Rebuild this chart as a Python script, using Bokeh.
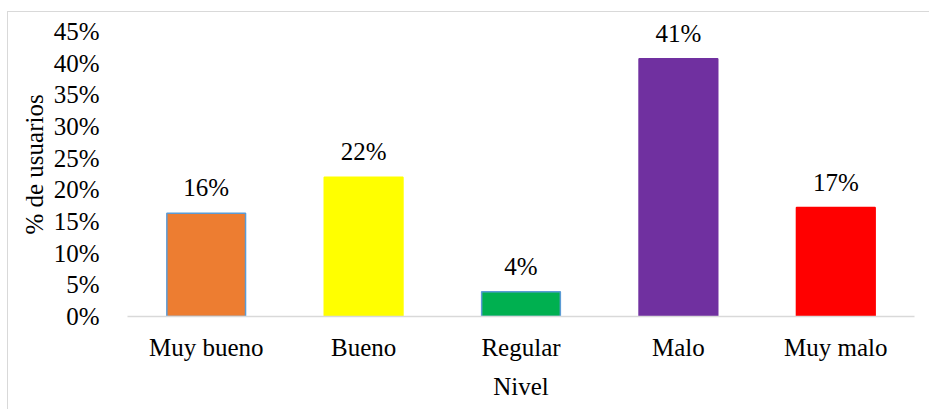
from bokeh.plotting import figure
from bokeh.models import ColumnDataSource, NumeralTickFormatter, FixedTicker, LabelSet, Range1d
from bokeh.embed import file_html
from bokeh.resources import INLINE

categories = ["Muy bueno", "Bueno", "Regular", "Malo", "Muy malo"]
values = [16.3, 22.0, 3.9, 40.7, 17.2]
labels = ["16%", "22%", "4%", "41%", "17%"]
colors = ["#ED7D31", "#FFFF00", "#00B050", "#7030A0", "#FF0000"]
outlines = ["#5B9BD5", None, "#5B9BD5", None, None]
y_ticks = [0, 5, 10, 15, 20, 25, 30, 35, 40, 45]

FONT = "Liberation Serif"
FS = "25px"

src = ColumnDataSource(dict(
    x=categories,
    top=[v / 100 for v in values],
    lab=labels,
    color=colors,
    line=[c if c else col for c, col in zip(outlines, colors)],
))

p = figure(x_range=categories, y_range=Range1d(0, 0.48),
           width=922, height=398, output_backend="svg", toolbar_location=None,
           min_border_left=119, min_border_right=16, min_border_top=0, min_border_bottom=94)
p.styles = {"margin-left": "7px", "margin-top": "11px",
            "border-left": "1px solid #D9D9D9", "border-top": "1px solid #D9D9D9"}

p.vbar(x="x", top="top", width=0.5, source=src, fill_color="color",
       line_color="line", line_width=1.5)

p.add_layout(LabelSet(x="x", y="top", text="lab", source=src, text_align="center",
                      text_baseline="bottom", y_offset=12, text_font=FONT,
                      text_font_size=FS, text_color="#000000"))

p.outline_line_color = None
p.xgrid.grid_line_color = None
p.ygrid.grid_line_color = None

p.yaxis.ticker = FixedTicker(ticks=[t / 100 for t in y_ticks])
p.yaxis.formatter = NumeralTickFormatter(format="0%")
p.yaxis.axis_line_color = None
p.yaxis.major_tick_line_color = None
p.yaxis.minor_tick_line_color = None
p.yaxis.major_label_standoff = 22
p.yaxis.axis_label = "% de usuarios"
p.yaxis.axis_label_standoff = 3

p.xaxis.axis_line_color = "#D9D9D9"
p.xaxis.axis_line_width = 1.5
p.xaxis.major_tick_line_color = None
p.xaxis.minor_tick_line_color = None
p.xaxis.major_label_standoff = 11
p.xaxis.axis_label = "Nivel"
p.xaxis.axis_label_standoff = 9

for ax in (p.xaxis[0], p.yaxis[0]):
    ax.major_label_text_font = FONT
    ax.major_label_text_font_size = FS
    ax.major_label_text_color = "#000000"
    ax.axis_label_text_font = FONT
    ax.axis_label_text_font_size = FS
    ax.axis_label_text_font_style = "normal"
    ax.axis_label_text_color = "#000000"

p.x_range.range_padding = 0.0

open("out.html", "w").write(file_html(p, INLINE))
